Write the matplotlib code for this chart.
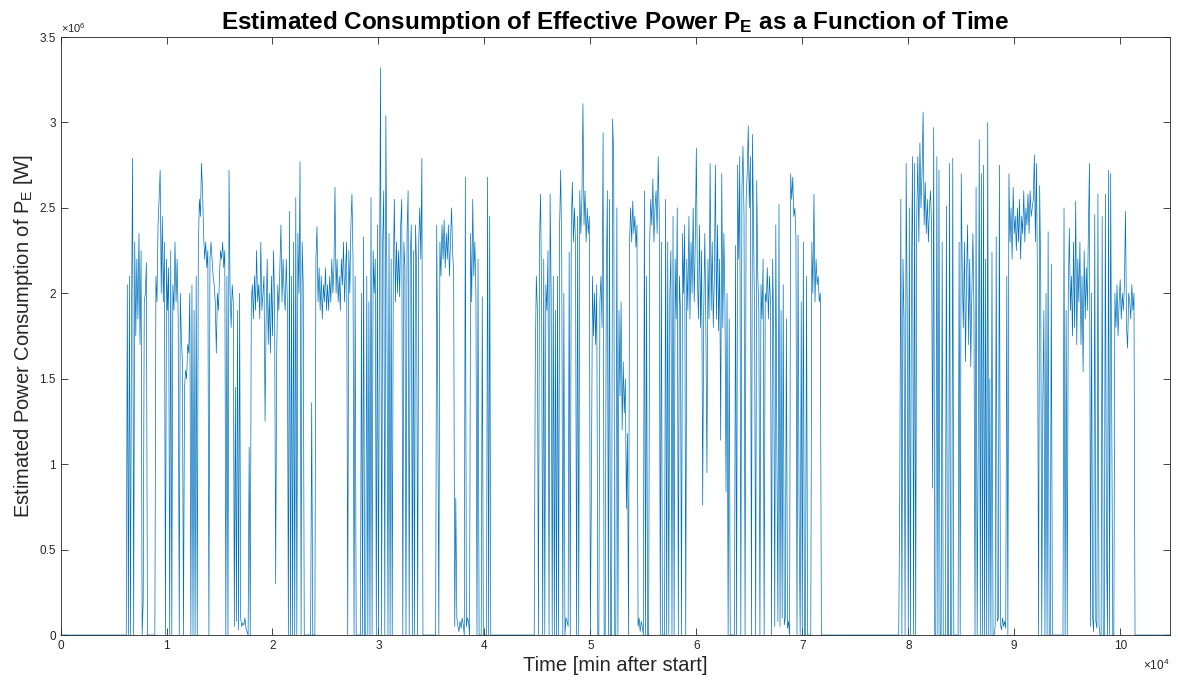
import numpy as np
import matplotlib
matplotlib.use("Agg")
import matplotlib.pyplot as plt
from matplotlib.ticker import FuncFormatter, MultipleLocator

plt.rcParams['font.family'] = ['Liberation Sans', 'DejaVu Sans']
plt.rcParams['mathtext.fontset'] = 'custom'
plt.rcParams['mathtext.rm'] = 'Liberation Sans'
plt.rcParams['mathtext.it'] = 'Liberation Sans:italic'
plt.rcParams['mathtext.bf'] = 'Liberation Sans:bold'

# sampled power readings in MW, one value every 100 min inside each active period
step_min = 100
t_end = 104700

block1_start = 6300
block1 = [
    2.05, 0, 2.1, 0, 1.9, 2.79, 0, 2.3, 1.75, 2.2,
    1.85, 2.35, 1.7, 2.25, 0, 0.2, 1.95, 2.0, 2.18, 0,
    0, 0, 0, 0, 0, 0, 0, 2.1, 1.95, 2.4,
    2.55, 2.72, 2.0, 2.45, 1.95, 2.3, 0, 2.2, 1.9, 2.15,
    0, 2.25, 0, 2.05, 1.9, 2.3, 1.95, 2.2, 1.85, 0,
    2.0, 1.75, 1.6, 0, 1.45, 1.55, 1.5, 1.7, 1.65, 2.0,
    0, 2.05, 0, 1.9, 0, 2.1, 0, 2.25, 2.55, 2.45,
    2.76, 2.6, 2.35, 2.2, 2.3, 2.15, 2.25, 0, 2.2, 2.3,
    2.2, 2.1, 2.05, 1.95, 1.65, 2.0, 1.9, 2.1, 2.25, 2.2,
    2.3, 2.15, 2.25, 0, 2.1, 0, 2.72, 2.0, 1.8, 2.05,
    1.95, 0.05, 1.45, 0.08, 1.9, 0.03, 2.0, 0.1, 0.05, 0.07,
    0.06, 0.1, 0.04, 0.02, 0, 1.1, 0, 1.95, 2.05, 1.85,
    2.1, 1.9, 2.25, 1.95, 2.05, 1.85, 2.3, 1.9, 2.0, 2.1,
    1.25, 1.85, 2.2, 1.7, 2.0, 1.65, 2.1, 1.75, 2.25, 1.95,
    0.3, 1.65, 2.05, 1.9, 2.15, 2.4, 1.95, 2.2, 2.0, 1.9,
    2.2, 1.95, 0, 2.48, 0, 2.1, 0, 2.3, 0, 2.56,
    0, 2.35, 2.0, 2.77, 0, 2.3, 2.05, 0, 0, 0,
    0, 0, 0, 0, 1.36, 0, 0, 0, 2.2, 2.39,
    1.95, 2.15, 1.9, 2.1, 1.85, 2.05, 1.95, 2.15, 1.9, 2.05,
    1.9, 2.1, 1.95, 2.2, 2.0, 2.15, 2.62, 2.0, 2.2, 1.95,
    2.1, 1.9, 2.2, 2.05, 2.3, 1.95, 2.15, 2.3, 0, 2.25,
    2.0, 2.4, 2.58, 2.2, 0, 2.1, 0, 0, 0, 0,
    0, 2.0, 0, 2.33, 0, 0, 2.1, 0, 1.95, 0,
    2.56, 0, 2.25, 2.0, 2.2, 0, 2.4, 0, 2.1, 3.32,
    0, 2.3, 2.6, 0, 3.04, 2.0, 0, 2.35, 0, 2.2,
    0, 2.1, 2.55, 1.95, 2.3, 2.0, 2.25, 1.98, 2.4, 2.55,
    0, 2.3, 2.15, 0, 2.35, 2.6, 0, 2.2, 2.4, 0,
    2.25, 0, 2.4, 2.15, 0, 2.3, 2.5, 2.2, 2.79, 0,
    0, 0, 0, 0, 0, 0, 0, 0, 0, 0,
    0, 0, 2.4, 1.4, 0, 2.3, 2.1, 2.4, 2.2, 2.43,
    2.15, 2.35, 2.2, 2.4, 2.1, 2.3, 2.5, 2.25, 2.1, 0.05,
    0.8, 0.1, 0.05, 0.02, 0.08, 0.04, 0.1, 0.06, 0, 2.68,
    0.05, 0.1, 0.08, 0, 2.35, 1.95, 2.55, 2.1, 2.3, 2.0,
    0, 2.2, 0, 0, 0, 1.98, 0, 0, 0, 0,
    2.68, 0, 2.45, 0,
]

block2_start = 44800
block2 = [
    1.6, 2.1, 1.9, 0, 2.3, 2.58, 1.95, 0, 2.2, 0,
    2.05, 1.9, 2.25, 0, 2.58, 2.0, 0, 2.1, 0, 1.9,
    0, 2.1, 0, 2.4, 2.72, 2.2, 0, 2.0, 0, 0.1,
    0.08, 0.05, 2.24, 0, 2.4, 2.65, 2.3, 2.5, 2.28, 0,
    2.45, 0, 2.6, 2.35, 2.55, 3.11, 2.4, 2.6, 2.3, 2.5,
    2.35, 2.45, 0, 0.88, 2.1, 1.75, 2.0, 1.7, 2.05, 0,
    0, 1.95, 2.1, 1.8, 2.94, 0, 0, 2.05, 2.6, 0,
    2.55, 0, 0, 3.02, 2.8, 0, 0, 2.5, 0, 1.9,
    1.4, 1.95, 1.2, 1.6, 1.3, 1.5, 0.74, 1.18, 0, 2.3,
    2.5, 2.3, 2.54, 2.35, 2.45, 2.27, 2.4, 0.05, 0.1, 0.02,
    0.08, 0.05, 0, 2.6, 0, 2.1, 0, 0, 2.3, 2.55,
    2.4, 2.67, 2.3, 2.5, 2.6, 2.35, 2.8, 2.45, 0, 2.3,
    0, 0, 0, 2.55, 0, 2.3, 0, 2.0, 2.25, 0,
    2.45, 0, 2.2, 1.85, 2.5, 0, 2.1, 1.9, 0, 2.35,
    2.0, 2.4, 0, 2.2, 1.9, 2.45, 1.85, 2.3, 2.0, 2.5,
    1.95, 2.3, 2.85, 2.1, 1.85, 2.4, 1.8, 2.25, 0.76, 1.9,
    2.35, 1.8, 0.95, 2.2, 1.85, 2.76, 1.9, 2.3, 1.8, 2.1,
    2.75, 1.85, 2.4, 1.78, 2.2, 1.14, 2.7, 1.8, 2.35, 1.95,
    0.84, 2.0, 0, 1.85, 0, 0, 0, 0, 0, 2.28,
    0, 2.75, 2.2, 2.8, 0, 2.6, 2.86, 2.45, 0, 2.55,
    2.7, 2.98, 2.5, 2.8, 0, 2.93, 2.4, 1.82, 0, 2.66,
    2.1, 1.9, 0, 2.05, 1.85, 2.2, 0, 2.0, 1.95, 2.15,
    1.85, 2.1, 1.95, 0, 2.2, 1.8, 0.05, 2.4, 1.1, 0.08,
    2.52, 0.05, 1.9, 0.1, 2.05, 0.06, 0.1, 1.85, 0.04, 0.08,
    0, 2.7, 2.55, 2.68, 2.45, 2.5, 2.33, 0, 2.34, 0.68,
    0, 1.95, 0, 2.3, 0, 0, 2.1, 0, 0, 0,
    0, 2.3, 2.0, 2.58, 1.95, 2.2, 2.05, 2.1, 1.95, 2.0,
]

block3_start = 79200
block3 = [
    0.86, 2.55, 0, 2.2, 1.85, 0, 2.76, 1.9, 0, 2.5,
    0, 2.1, 2.8, 0, 2.76, 0, 2.45, 2.8, 2.3, 2.88,
    2.5, 2.7, 3.06, 2.4, 2.65, 2.35, 2.55, 2.3, 2.5, 2.6,
    2.4, 0.86, 2.97, 0, 0, 2.8, 0, 2.72, 0, 0,
    2.3, 0, 0, 0, 2.51, 0, 0, 2.76, 0, 0,
    2.79, 0, 0, 0, 0, 0, 2.3, 0, 2.7, 2.1,
    1.8, 2.3, 1.6, 2.1, 2.4, 1.7, 2.2, 1.57, 2.0, 2.35,
    1.9, 0, 2.62, 0, 1.1, 2.9, 0, 2.7, 0, 2.75,
    0, 2.2, 0, 3.0, 0, 1.5, 0, 2.24, 0, 0,
    0.05, 2.33, 0.08, 0.1, 2.75, 0.06, 0.03, 0.1, 0.05, 0.08,
    0.04, 2.1, 0, 2.7, 2.3, 2.5, 2.2, 2.62, 2.35, 2.45,
    2.25, 2.5, 2.3, 2.55, 2.2, 2.45, 2.35, 2.6, 2.3, 2.5,
    2.4, 2.58, 2.35, 2.6, 2.45, 2.5, 2.55, 2.81, 2.3, 2.76,
    2.0, 0, 2.63, 2.1, 0, 1.38, 1.9, 0, 2.0, 0,
    2.36, 0, 0, 2.17, 0, 0, 0, 0, 0, 0,
    0, 0, 0, 0, 0, 2.5, 0, 1.9, 0, 2.0,
    2.38, 1.9, 2.1, 1.75, 2.3, 1.8, 2.54, 1.7, 2.2, 1.95,
    2.3, 1.7, 2.1, 1.54, 2.25, 1.85, 2.15, 1.9, 2.38, 2.76,
    0.05, 2.0, 0.1, 0.02, 2.46, 0.08, 0.04, 2.58, 0.06, 0,
    0, 2.45, 0, 0, 2.58, 0.59, 0, 2.72, 0, 2.7,
    1.4, 0, 0, 2.0, 1.8, 2.05, 1.75, 1.95, 2.08, 1.85,
    2.0, 1.9, 2.05, 2.48, 1.8, 1.68, 2.0, 1.95, 1.85, 2.05,
    1.9, 2.0,
]

t = np.arange(0, t_end + step_min, step_min)
p = np.zeros(len(t))
for start, vals in [(block1_start, block1), (block2_start, block2), (block3_start, block3)]:
    i0 = start // step_min
    p[i0:i0 + len(vals)] = vals
p = p * 1e6

fig = plt.figure(figsize=(11.78, 6.84), dpi=100)
ax = fig.add_axes([0.0514, 0.0716, 0.9418, 0.8743])
ax.plot(t, p, color='#0072BD', lw=0.5, clip_on=False)

ax.set_xlim(0, t_end)
ax.set_ylim(0, 3.5e6)
ax.xaxis.set_major_locator(MultipleLocator(1e4))
ax.yaxis.set_major_locator(MultipleLocator(0.5e6))
ax.xaxis.set_major_formatter(FuncFormatter(lambda v, pos: f"{v / 1e4:g}"))
ax.yaxis.set_major_formatter(FuncFormatter(lambda v, pos: f"{v / 1e6:g}"))
ax.tick_params(direction='in', top=True, right=True, length=5, width=0.6,
               colors='#262626', labelsize=8.5)
for s in ax.spines.values():
    s.set_color('#262626')
    s.set_linewidth(0.6)

ax.text(0, 1.003, r'$\times\mathregular{10^6}$', transform=ax.transAxes,
        fontsize=8, color='#262626', ha='left', va='bottom')
ax.text(1.0, -0.038, r'$\times\mathregular{10^4}$', transform=ax.transAxes,
        fontsize=8.5, color='#262626', ha='right', va='top')

ax.set_title(r'Estimated Consumption of Effective Power P$_\mathbf{E}$ as a Function of Time',
             fontsize=17.5, fontweight='bold', pad=6)
ax.set_xlabel('Time [min after start]', fontsize=14.5, color='#262626', labelpad=3)
ax.set_ylabel(r'Estimated Power Consumption of P$_\mathregular{E}$ [W]', fontsize=14.5,
              color='#262626', labelpad=3)

fig.savefig('out.png', dpi=100)
